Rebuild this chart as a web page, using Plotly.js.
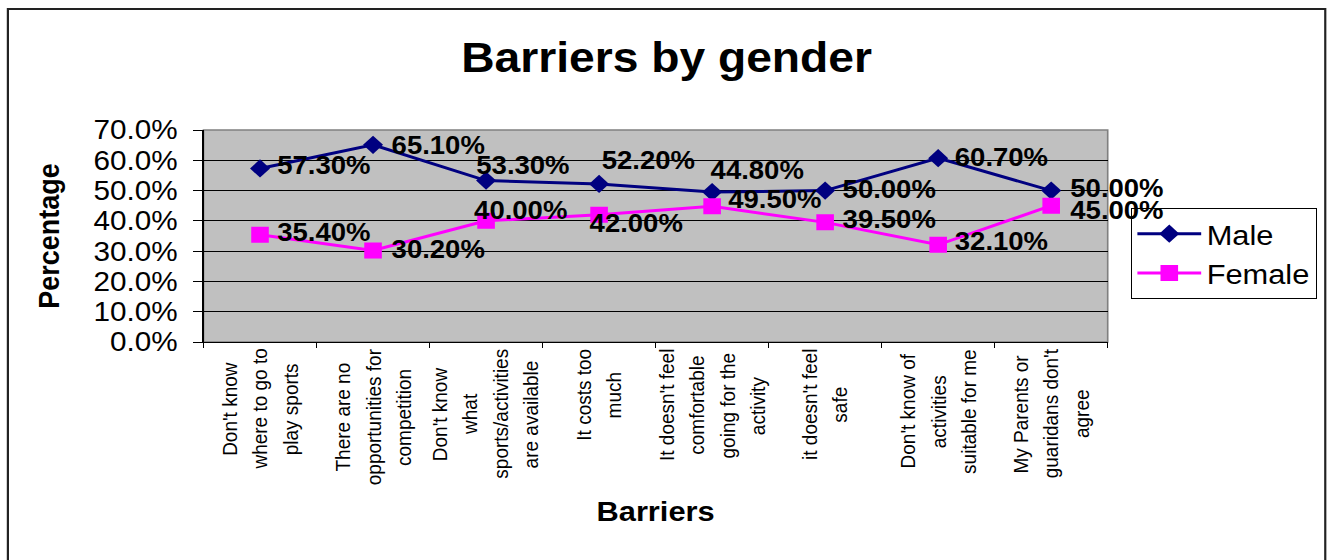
<!DOCTYPE html>
<html>
<head>
<meta charset="utf-8">
<script src="https://cdn.plot.ly/plotly-3.0.1.min.js"></script>
<style>
  html, body { margin: 0; padding: 0; background: #fff; overflow: hidden; }
  #wrap { width: 1329px; height: 560px; overflow: hidden; }
  /* the chart is laid out narrower and widened, giving the broad lettering */
  #chart { transform-origin: 0 0; }
</style>
</head>
<body>
<div id="wrap"><div id="chart"></div></div>
<script>
// Survey results: share of respondents naming each barrier, split by gender
const categories = [
  "Don't know<br>where to go to<br>play sports",
  "There are no<br>opportunities for<br>competition",
  "Don't know<br>what<br>sports/activities<br>are available",
  "It costs too<br>much",
  "It doesn't feel<br>comfortable<br>going for the<br>activity",
  "it doesn't feel<br>safe",
  "Don't know of<br>activities<br>suitable for me",
  "My Parents or<br>guaridans don't<br>agree"
];
const male   = [57.3, 65.1, 53.3, 52.2, 49.5, 50.0, 60.7, 50.0];
const female = [35.4, 30.2, 40.0, 42.0, 44.8, 39.5, 32.1, 45.0];
const yTickValues = [0, 10, 20, 30, 40, 50, 60, 70];
const yTickText = yTickValues.map(v => v.toFixed(1) + '%');

// Horizontal widening factor of the whole drawing
const S = 1.1;

// Pixel offsets (on screen) of each value label from its marker: [x, y]
const maleLabelShift   = [[14, 3], [15, 0], [-11, 16], [0, 24], [13, -7], [14, 2], [13, 1], [15, 3]];
const femaleLabelShift = [[14, 3], [15, 2], [-13, 11], [-11, -8], [-3, 36], [14, 3], [13, 4], [15, -4]];

const FONT = "'Liberation Sans', Arial, Helvetica, sans-serif";
const W = 1329, H = 560;
const Wc = W / S;                       // layout width before widening
const sx = x => x / S;                  // screen x -> layout x
const M = { l: sx(203), r: sx(W - 1109), t: 130, b: H - 342 };
const plotW = Wc - M.l - M.r, plotH = H - M.t - M.b;

// paper-fraction helpers from screen pixels
const px = x => (sx(x) - M.l) / plotW;
const py = y => (H - M.b - y) / plotH;

const traces = [
  {
    type: 'scatter', mode: 'lines+markers', name: 'Male',
    x: categories, y: male,
    line: { color: '#000080', width: 3 },
    marker: { symbol: 'diamond', size: 14, color: '#000080' },
    hoverinfo: 'skip'
  },
  {
    type: 'scatter', mode: 'lines+markers', name: 'Female',
    x: categories, y: female,
    line: { color: '#ff00ff', width: 3 },
    marker: { symbol: 'square', size: 16, color: '#ff00ff' },
    hoverinfo: 'skip'
  }
];

const annotations = [];

// value labels beside each marker
function addValueLabels(values, shifts) {
  values.forEach((v, i) => {
    annotations.push({
      x: categories[i], y: v, xref: 'x', yref: 'y',
      text: v.toFixed(2) + '%', showarrow: false,
      xanchor: 'left', yanchor: 'middle',
      xshift: shifts[i][0], yshift: shifts[i][1],
      font: { family: FONT, size: 25, weight: 700, color: '#000' }
    });
  });
}
addValueLabels(male, maleLabelShift);
addValueLabels(female, femaleLabelShift);

// rotated category labels, one annotation per line so the line pitch can be set
const catFont = 19, linePitch = sx(30.5), labelGap = 7;
const ctx = document.createElement('canvas').getContext('2d');
ctx.font = catFont + "px 'Liberation Sans', Arial, sans-serif";
categories.forEach(cat => {
  const lines = cat.split('<br>');
  const longest = Math.max(...lines.map(s => ctx.measureText(s).width));
  lines.forEach((line, j) => {
    annotations.push({
      x: cat, xref: 'x', y: 0, yref: 'paper',
      text: line, showarrow: false, textangle: -90,
      xanchor: 'center', yanchor: 'middle',
      xshift: (j - (lines.length - 1) / 2) * linePitch,
      yshift: -(labelGap + longest / 2),
      font: { family: FONT, size: catFont, color: '#000' }
    });
  });
});

const layout = {
  width: Wc, height: H,
  margin: { l: M.l, r: M.r, t: M.t, b: M.b, pad: 0 },
  paper_bgcolor: '#ffffff',
  plot_bgcolor: '#c0c0c0',
  font: { family: FONT, color: '#000' },
  showlegend: true,
  title: {
    text: 'Barriers by gender',
    font: { family: FONT, size: 42, weight: 700, color: '#000' },
    xref: 'paper', x: px(667), xanchor: 'center',
    yref: 'container', y: 1 - 57 / H, yanchor: 'middle'
  },
  xaxis: {
    type: 'category', categoryorder: 'array', categoryarray: categories,
    range: [-0.5, categories.length - 0.5],
    showticklabels: false,
    ticks: 'outside', tickson: 'boundaries', ticklen: 5, tickcolor: '#000', tickwidth: 1,
    showline: true, linecolor: '#000', linewidth: 1,
    showgrid: false, zeroline: false, fixedrange: true,
    title: { text: 'Barriers', font: { family: FONT, size: 28, weight: 700 }, standoff: 159 }
  },
  yaxis: {
    range: [0, 70], tickmode: 'array', tickvals: yTickValues, ticktext: yTickText,
    ticks: 'outside', ticklen: 9, tickcolor: '#000', tickwidth: 1,
    tickfont: { family: FONT, size: 27, color: '#000' },
    ticklabelstandoff: 8,
    showline: true, linecolor: '#000', linewidth: 1,
    showgrid: true, gridcolor: '#000', gridwidth: 1,
    zeroline: false, fixedrange: true,
    title: { text: 'Percentage', font: { family: FONT, size: 27, weight: 700 }, standoff: 22 }
  },
  legend: {
    x: px(1131), xanchor: 'left', y: py(208), yanchor: 'top',
    bgcolor: '#ffffff', bordercolor: '#000', borderwidth: 1,
    font: { family: FONT, size: 28, color: '#000' },
    itemwidth: 58, tracegroupgap: 0
  },
  shapes: [
    // grey frame of the plotting area
    { type: 'rect', xref: 'paper', yref: 'paper', x0: 0, x1: 1, y0: 0, y1: 1,
      line: { color: '#808080', width: 1.5 }, layer: 'below' },
    // outer chart border
    { type: 'rect', xref: 'paper', yref: 'paper',
      x0: px(7), x1: px(1327), y0: py(575), y1: py(9),
      line: { color: '#222', width: 2 }, layer: 'above' }
  ],
  annotations: annotations
};

document.getElementById('chart').style.transform = 'scaleX(' + S + ')';
Plotly.newPlot('chart', traces, layout, { displayModeBar: false, staticPlot: true });
</script>
</body>
</html>
